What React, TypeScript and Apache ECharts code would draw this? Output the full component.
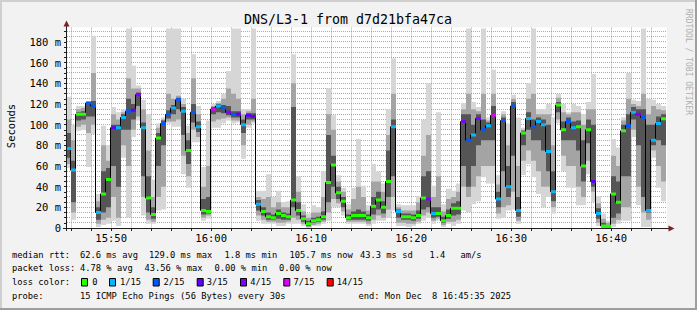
import React, { useEffect, useRef } from 'react';
import * as echarts from 'echarts';

const MONO = '"DejaVu Sans Mono", monospace';

// ---------- text ----------
const titleText = 'DNS/L3-1 from d7d21bfa47ca';
const yAxisName = 'Seconds';
const watermark = 'RRDTOOL / TOBI OETIKER';

// ---------- time axis (seconds of day) ----------
const axisStart = 56735; // 15:45:35
const axisEnd = 60335; // 16:45:35
const firstSample = 56729;
const sampleStep = 30;
const xLabelValues = [57000, 57600, 58200, 58800, 59400, 60000];
const xLabelTexts = ['15:50', '16:00', '16:10', '16:20', '16:30', '16:40'];
const xTickValues: number[] = [];
for (let t = 56760; t <= 60240; t += 120) xTickValues.push(t);

// ---------- value axis (ms) ----------
const yMax = 194;
const yLabelValues = [0, 20, 40, 60, 80, 100, 120, 140, 160, 180];
const yLabelTexts = ['0', '20 m', '40 m', '60 m', '80 m', '100 m', '120 m', '140 m', '160 m', '180 m'];
const yTickValues: number[] = [];
for (let v = 0; v <= 190; v += 5) yTickValues.push(v);

// ---------- data: one sample every 30 s ----------
const median = [
  77, 56, 110, 110, 121, 118, 15, 33, 47, 97,
  97, 107, 113, 114, 129, 97, 29, 13, 87, 101,
  110, 116, 124, 113, 75, 112, 98, 17, 16, 115,
  118, 116, 112, 110, 110, 100, 109, 108, 23, 16,
  11, 10, 14, 12, 11, 27, 17, 9, 4, 7,
  8, 11, 44, 61, 34, 26, 10, 12, 12, 12,
  10, 21, 27, 20, 45, 98, 16, 11, 11, 10,
  12, 29, 28, 14, 14, 7, 12, 19, 19, 103,
  85, 90, 106, 95, 99, 109, 28, 104, 40, 118,
  17, 92, 106, 98, 103, 100, 74, 35, 119, 95,
  103, 97, 98, 60, 95, 45, 14, 2, 1.8, 33,
  25, 94, 99, 112, 110, 107, 17, 85, 101, 105.7,
];
const lossCount = [
  1, 1, 0, 0, 2, 2, 1, 0, 0, 3,
  1, 1, 2, 3, 4, 1, 0, 0, 0, 2,
  2, 1, 2, 1, 0, 2, 1, 0, 0, 7,
  1, 2, 4, 2, 3, 1, 3, 3, 1, 0,
  0, 0, 0, 0, 0, 0, 0, 0, 0, 0,
  0, 0, 0, 0, 0, 0, 0, 0, 0, 0,
  0, 0, 0, 0, 0, 1, 1, 0, 0, 0,
  0, 0, 4, 1, 0, 0, 0, 0, 0, 4,
  2, 1, 4, 2, 1, 7, 1, 2, 1, 2,
  1, 0, 1, 2, 1, 1, 1, 1, 0, 0,
  2, 1, 0, 0, 0, 3, 1, 0, 0, 0,
  0, 0, 2, 1, 4, 2, 1, 1, 1, 0,
];
const smokeMin = [
  58, 8, 94, 95, 59, 91, 1, 3, 4, 7,
  2, 68, 10, 88, 104, 12, 4, 4, 17, 18,
  101, 98, 98, 52, 39, 83, 83, 7, 9, 97,
  97, 101, 104, 101, 102, 67, 97, 101, 7, 4,
  4, 4, 2, 2, 4, 4, 4, 2, 0, 2,
  2, 4, 7, 20, 20, 12, 4, 4, 4, 4,
  2, 4, 7, 7, 10, 17, 2, 2, 1, 2,
  4, 7, 10, 4, 7, 1, 4, 2, 4, 17,
  15, 23, 26, 49, 43, 43, 9, 10, 17, 18,
  4, 51, 62, 49, 33, 20, 30, 14, 101, 55,
  39, 39, 22, 22, 52, 25, 2, 0, 0, 1,
  4, 7, 7, 88, 22, 1, 1, 68, 39, 26,
];
const smokeLow = [
  62, 15, 98, 100, 92, 100, 4, 8, 10, 30,
  10, 80, 60, 95, 108, 30, 8, 6, 30, 40,
  103, 103, 105, 70, 50, 95, 88, 10, 12, 103,
  105, 106, 107, 104, 104, 80, 100, 103, 12, 8,
  6, 6, 5, 5, 6, 10, 8, 4, 1, 3,
  4, 6, 15, 28, 24, 16, 6, 6, 6, 6,
  4, 8, 12, 10, 18, 30, 5, 5, 4, 4,
  6, 12, 15, 7, 9, 3, 6, 6, 8, 40,
  30, 40, 50, 60, 60, 60, 14, 20, 22, 35,
  7, 65, 75, 65, 55, 40, 40, 20, 105, 70,
  60, 60, 40, 30, 65, 35, 5, 0, 0, 4,
  8, 20, 20, 95, 40, 15, 8, 75, 60, 45,
];
const coreLow = [
  68, 25, 104, 105, 108, 108, 8, 15, 20, 60,
  40, 95, 95, 105, 118, 50, 15, 9, 60, 80,
  106, 110, 115, 90, 62, 102, 93, 13, 14, 110,
  112, 111, 109, 107, 107, 92, 105, 105, 17, 12,
  8, 8, 9, 8, 8, 20, 12, 6, 2, 5,
  6, 8, 25, 40, 28, 20, 8, 8, 8, 8,
  7, 13, 18, 14, 30, 50, 10, 8, 8, 7,
  9, 18, 20, 10, 11, 5, 9, 12, 13, 60,
  40, 60, 80, 85, 85, 85, 20, 55, 30, 70,
  11, 80, 95, 85, 85, 75, 55, 26, 112, 85,
  85, 85, 75, 45, 82, 40, 9, 1, 1, 10,
  14, 50, 50, 105, 80, 30, 15, 80, 85, 80,
];
const coreHigh = [
  92, 65, 112, 113, 122, 123, 20, 55, 58, 100,
  100, 110, 125, 120, 131, 102, 50, 20, 92, 104,
  114, 119, 126, 117, 85, 120, 103, 28, 30, 117,
  120, 119, 118, 113, 113, 105, 111, 111, 27, 20,
  15, 13, 18, 15, 14, 117, 25, 12, 7, 10,
  11, 16, 90, 70, 40, 30, 13, 16, 18, 16,
  13, 30, 35, 26, 75, 105, 18, 14, 14, 13,
  17, 50, 55, 20, 20, 11, 18, 24, 26, 110,
  110, 100, 110, 105, 102, 118, 35, 107, 60, 122,
  30, 94, 112, 105, 107, 105, 100, 55, 122, 103,
  107, 103, 104, 85, 105, 100, 19, 5, 3, 50,
  45, 100, 110, 117, 115, 115, 100, 100, 108, 110,
];
const smokeHigh = [
  105, 85, 115, 116, 122, 150, 26, 80, 65, 110,
  105, 112, 145, 135, 135, 115, 75, 30, 97, 105,
  130, 125, 128, 120, 92, 145, 110, 40, 60, 118,
  121, 125, 135, 130, 125, 110, 113, 125, 30, 28,
  30, 20, 25, 20, 20, 140, 35, 16, 10, 15,
  15, 30, 110, 95, 45, 35, 18, 28, 40, 30,
  17, 45, 45, 35, 90, 130, 20, 17, 17, 17,
  25, 70, 90, 30, 50, 16, 28, 30, 35, 115,
  130, 115, 113, 130, 104, 130, 42, 110, 80, 125,
  60, 95, 125, 130, 110, 110, 110, 80, 126, 112,
  110, 112, 112, 100, 115, 115, 24, 9, 5, 70,
  60, 104, 125, 120, 118, 130, 110, 118, 115, 114,
];
const smokeMax = [
  127, 100, 118, 118, 123, 186, 33, 99, 80, 117,
  112, 115, 193, 157, 138, 124, 110, 47, 101, 107,
  193, 193, 193, 125, 99, 168, 118, 59, 104, 120,
  123, 130, 152, 193, 193, 115, 115, 193, 36, 36,
  52, 30, 36, 25, 26, 168, 50, 23, 14, 22,
  20, 55, 135, 109, 51, 39, 23, 39, 86, 41,
  22, 62, 55, 43, 115, 164, 23, 22, 22, 22,
  31, 105, 140, 41, 112, 23, 38, 36, 43, 121,
  193, 122, 117, 193, 107, 153, 51, 113, 101, 129,
  107, 97, 140, 193, 115, 115, 120, 107, 130, 120,
  112, 120, 118, 110, 122, 149, 31, 14, 7, 86,
  78, 107, 150, 124, 123, 193, 125, 124, 120, 118,
];

// ---------- loss legend ----------
const lossLevels = [0, 1, 2, 3, 4, 7, 14];
const lossLabels = ['0', '1/15', '2/15', '3/15', '4/15', '7/15', '14/15'];
const lossPalette = ['#26ff00', '#00b8ff', '#0059ff', '#5e00ff', '#7e00ff', '#dd00ff', '#ff0000'];

// ---------- statistics text ----------
const rttRow = ['median rtt:', '62.6 ms avg', '129.0 ms max', '1.8 ms min', '105.7 ms now', '43.3 ms sd', '1.4', 'am/s'];
const lossRow = ['packet loss:', '4.78 % avg', '43.56 % max', '0.00 % min', '0.00 % now'];
const colorRowLabel = 'loss color:';
const probeRow = ['probe:', '15 ICMP Echo Pings (56 Bytes) every 30s', 'end: Mon Dec', '8 16:45:35 2025'];

// ---------- layout ----------
const W = 697;
const H = 310;
const rttX = [12, 80, 149, 224.5, 289.5, 360, 429.5, 460.5];
const lossX = [12, 80, 144.5, 214.5, 279];
const probeX = [12, 80, 358.5, 432];
const boxX = [81, 109, 152.7, 196.7, 240, 283.3, 326.7];
const boxLabelX = [92.2, 120, 163.5, 206.8, 250.2, 293.5, 336.8];
const rowY = [254.5, 268.3, 282.3, 296];
const legendFont = `8.75px ${MONO}`;

const gridColor = 'rgba(143,143,143,0.75)';
const majorColor = 'rgba(222,79,79,0.6)';

function lossColor(n: number) {
  const k = lossLevels.indexOf(n);
  return lossPalette[k >= 0 ? k : 0];
}

function buildOption() {
  const smokeData = median.map((_, i) => [
    firstSample + sampleStep * i,
    smokeMin[i], smokeLow[i], coreLow[i], coreHigh[i], smokeHigh[i], smokeMax[i],
  ]);
  const markData = median.map((m, i) => [firstSample + sampleStep * i, m, lossCount[i]]);
  const stepData: number[][] = [[firstSample - 3, median[0]]];
  median.forEach((m, i) => stepData.push([firstSample + sampleStep * (i + 1) - 3, m]));

  const yMinor = yTickValues.filter((v) => v > 0 && v % 20 !== 0);
  const yMajor = yLabelValues.filter((v) => v > 0);
  const xMinor = xTickValues.filter((t) => xLabelValues.indexOf(t) < 0);

  const texts: any[] = [];
  const addText = (text: string, x: number, y: number, font: string) =>
    texts.push({
      type: 'text', x, y, z: 100, silent: true,
      style: { text, font, fill: '#000', align: 'left', verticalAlign: 'middle', textAlign: 'left', textVerticalAlign: 'middle' },
    });

  rttRow.forEach((t, k) => addText(t, rttX[k], rowY[0], legendFont));
  lossRow.forEach((t, k) => addText(t, lossX[k], rowY[1], legendFont));
  addText(colorRowLabel, 12, rowY[2], legendFont);
  lossLabels.forEach((t, k) => addText(t, boxLabelX[k], rowY[2], legendFont));
  probeRow.forEach((t, k) => addText(t, probeX[k], rowY[3], legendFont));

  const boxes = lossPalette.map((c, k) => ({
    type: 'rect', z: 100, silent: true,
    shape: { x: boxX[k] + 0.5, y: 278.5, width: 6, height: 7.5 },
    style: { fill: c, stroke: '#000', lineWidth: 1 },
  }));

  const graphic: any[] = [
    // frame
    { type: 'rect', z: 100, silent: true, shape: { x: 0, y: 0, width: W, height: 2 }, style: { fill: '#cfcfcf' } },
    { type: 'rect', z: 100, silent: true, shape: { x: 0, y: 0, width: 2, height: H }, style: { fill: '#cfcfcf' } },
    { type: 'rect', z: 100, silent: true, shape: { x: W - 2, y: 0, width: 2, height: H }, style: { fill: '#9e9e9e' } },
    { type: 'rect', z: 100, silent: true, shape: { x: 0, y: H - 2, width: W, height: 2 }, style: { fill: '#9e9e9e' } },
    // title
    {
      type: 'text', x: 348, y: 19, z: 100, silent: true,
      style: { text: titleText, font: `13.3px ${MONO}`, fill: '#000', align: 'center', verticalAlign: 'middle', textAlign: 'center', textVerticalAlign: 'middle' },
    },
    // y axis name
    {
      type: 'text', x: 11, y: 126, rotation: Math.PI / 2, z: 100, silent: true,
      style: { text: yAxisName, font: `10.5px ${MONO}`, fill: '#000', align: 'center', verticalAlign: 'middle', textAlign: 'center', textVerticalAlign: 'middle' },
    },
    // watermark
    {
      type: 'text', x: 688.5, y: 62, rotation: -Math.PI / 2, z: 100, silent: true,
      style: { text: watermark, font: `8px ${MONO}`, fill: '#b0b0b0', align: 'center', verticalAlign: 'middle', textAlign: 'center', textVerticalAlign: 'middle' },
    },
    // axes
    { type: 'line', z: 100, silent: true, shape: { x1: 66.5, y1: 25, x2: 66.5, y2: 231 }, style: { stroke: '#1f1f1f', lineWidth: 1 } },
    { type: 'line', z: 100, silent: true, shape: { x1: 63, y1: 228.5, x2: 670, y2: 228.5 }, style: { stroke: '#1f1f1f', lineWidth: 1 } },
    { type: 'polygon', z: 100, silent: true, shape: { points: [[66.5, 20.5], [63.5, 26.5], [69.5, 26.5]] }, style: { fill: '#801f1f' } },
    { type: 'polygon', z: 100, silent: true, shape: { points: [[674.5, 228.5], [668.5, 225.5], [668.5, 231.5]] }, style: { fill: '#801f1f' } },
    ...boxes,
    ...texts,
  ];

  return {
    animation: false,
    backgroundColor: '#f2f2f2',
    grid: { left: 67, top: 27.5, width: 600, height: 200.5, show: true, backgroundColor: '#ffffff', borderWidth: 0 },
    xAxis: {
      type: 'value', min: axisStart, max: axisEnd,
      splitLine: { show: false },
      axisLine: { show: false },
      axisTick: { show: true, customValues: xTickValues, length: 3, lineStyle: { color: '#1f1f1f' } },
      axisLabel: {
        customValues: xLabelValues,
        formatter: (v: number) => { const k = xLabelValues.indexOf(v); return k >= 0 ? xLabelTexts[k] : ''; },
        fontFamily: MONO, fontSize: 10.5, color: '#000', margin: 4,
      },
    },
    yAxis: {
      type: 'value', min: 0, max: yMax,
      splitLine: { show: false },
      axisLine: { show: false },
      axisTick: { show: true, customValues: yTickValues, length: 3, lineStyle: { color: '#1f1f1f' } },
      axisLabel: {
        customValues: yLabelValues,
        formatter: (v: number) => { const k = yLabelValues.indexOf(v); return k >= 0 ? yLabelTexts[k] : ''; },
        fontFamily: MONO, fontSize: 10.5, color: '#000', margin: 6,
      },
    },
    graphic,
    series: [
      {
        type: 'custom', name: 'grid', z: 1, silent: true,
        data: [[axisStart, 0]],
        encode: { x: 0, y: 1 },
        renderItem: (params: any, api: any) => {
          const left = api.coord([axisStart, 0])[0];
          const right = api.coord([axisEnd, 0])[0];
          const bottom = api.coord([axisStart, 0])[1];
          const top = api.coord([axisStart, yMax])[1];
          const children: any[] = [];
          const hLine = (v: number, stroke: string) => {
            const y = Math.floor(api.coord([axisStart, v])[1]) + 0.5;
            children.push({ type: 'line', shape: { x1: left, y1: y, x2: right, y2: y }, style: { stroke, lineWidth: 1, lineDash: [1, 1] } });
          };
          const vLine = (t: number, stroke: string) => {
            const x = Math.floor(api.coord([t, 0])[0]) + 0.5;
            children.push({ type: 'line', shape: { x1: x, y1: top, x2: x, y2: bottom }, style: { stroke, lineWidth: 1, lineDash: [1, 1] } });
          };
          yMinor.forEach((v) => hLine(v, gridColor));
          xMinor.forEach((t) => vLine(t, gridColor));
          yMajor.forEach((v) => hLine(v, majorColor));
          xLabelValues.forEach((t) => vLine(t, majorColor));
          return { type: 'group', children };
        },
      },
      {
        type: 'custom', name: 'smoke', z: 2, clip: true, silent: true,
        data: smokeData,
        encode: { x: 0, y: [1, 6] },
        renderItem: (params: any, api: any) => {
          const t = api.value(0);
          const xa = api.coord([t, 0])[0];
          const xb = api.coord([t + sampleStep, 0])[0];
          const band = (lo: number, hi: number, fill: string) => {
            const ya = api.coord([t, lo])[1];
            const yb = api.coord([t, hi])[1];
            return { type: 'rect', shape: { x: xa, y: yb, width: xb - xa, height: Math.max(ya - yb, 0) }, style: { fill } };
          };
          return {
            type: 'group',
            children: [
              band(api.value(1), api.value(6), '#d6d6d6'),
              band(api.value(2), api.value(5), '#a4a4a4'),
              band(api.value(3), api.value(4), '#555555'),
            ],
          };
        },
      },
      {
        type: 'line', name: 'median', z: 4, silent: true,
        data: stepData, step: 'start', showSymbol: false, symbol: 'none',
        lineStyle: { color: '#000', width: 1 },
      },
      {
        type: 'custom', name: 'loss', z: 5, clip: true, silent: true,
        data: markData,
        encode: { x: 0, y: 1 },
        renderItem: (params: any, api: any) => {
          const t = api.value(0);
          const p = api.coord([t, api.value(1)]);
          const xb = api.coord([t + sampleStep, api.value(1)])[0];
          return { type: 'rect', shape: { x: p[0], y: p[1] - 1.5, width: xb - p[0], height: 3 }, style: { fill: lossColor(api.value(2)) } };
        },
      },
    ],
  };
}

export default function App() {
  const ref = useRef<HTMLDivElement>(null);
  useEffect(() => {
    document.body.style.margin = '0';
    const chart = echarts.init(ref.current!, null, { renderer: 'svg' });
    chart.setOption(buildOption() as any);
    return () => chart.dispose();
  }, []);
  return <div ref={ref} style={{ width: W, height: H, position: 'fixed', left: 0, top: 0 }} />;
}
